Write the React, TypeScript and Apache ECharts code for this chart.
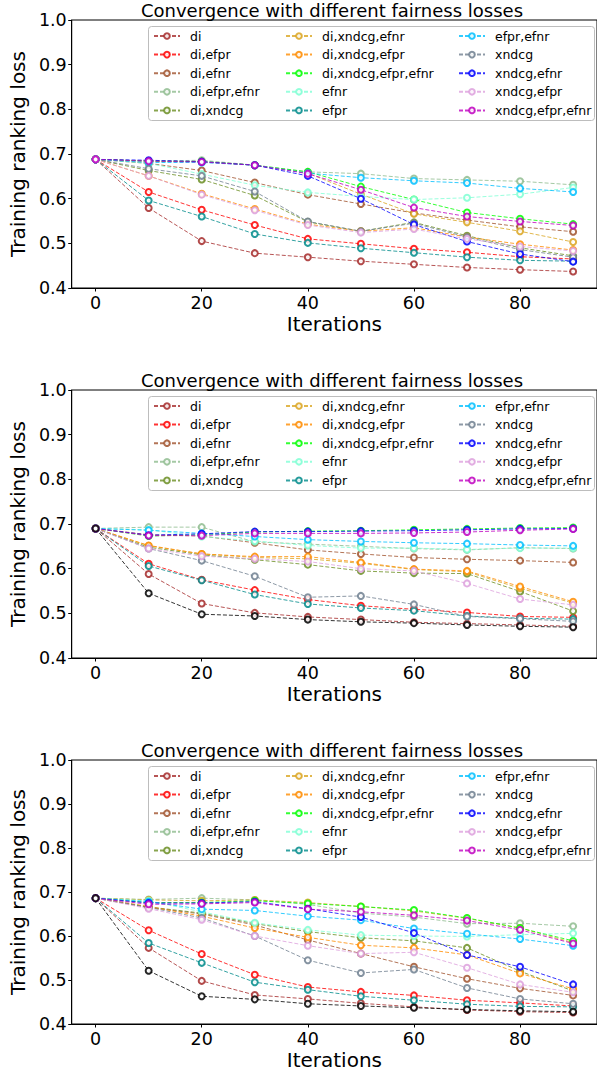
import React, { useEffect, useRef } from "react";
import * as echarts from "echarts";

const ITERATIONS = [0, 10, 20, 30, 40, 50, 60, 70, 80, 90];
const X_TICKS = [0, 20, 40, 60, 80];
const TITLE = "Convergence with different fairness losses";
const X_NAME = "Iterations";
const Y_NAME = "Training ranking loss";

const SERIES_NAMES = [
  "di",
  "di,efpr",
  "di,efnr",
  "di,efpr,efnr",
  "di,xndcg",
  "di,xndcg,efnr",
  "di,xndcg,efpr",
  "di,xndcg,efpr,efnr",
  "efnr",
  "efpr",
  "efpr,efnr",
  "xndcg",
  "xndcg,efnr",
  "xndcg,efpr",
  "xndcg,efpr,efnr",
];
const SERIES_COLORS = [
  "#a52a2a",
  "#ff0000",
  "#a0522d",
  "#8fbc8f",
  "#6b8e23",
  "#daa520",
  "#ff8c00",
  "#00ff00",
  "#7fffd4",
  "#008b8b",
  "#00bfff",
  "#708090",
  "#0000ff",
  "#dda0dd",
  "#bf00bf",
];
const EXTRA_COLOR = "#000000";

// ---- Panel 1 ----
const p1_di = [0.688, 0.579, 0.505, 0.478, 0.469, 0.46, 0.453, 0.446, 0.441, 0.437];
const p1_di_efpr = [0.688, 0.615, 0.575, 0.541, 0.51, 0.499, 0.488, 0.48, 0.47, 0.465];
const p1_di_efnr = [0.688, 0.679, 0.663, 0.636, 0.609, 0.588, 0.568, 0.552, 0.537, 0.526];
const p1_di_efpr_efnr = [0.688, 0.684, 0.686, 0.675, 0.66, 0.656, 0.645, 0.642, 0.639, 0.631];
const p1_di_xndcg = [0.688, 0.663, 0.643, 0.607, 0.548, 0.527, 0.547, 0.517, 0.49, 0.472];
const p1_di_xndcg_efnr = [0.688, 0.684, 0.683, 0.675, 0.657, 0.61, 0.566, 0.547, 0.527, 0.503];
const p1_di_xndcg_efpr = [0.688, 0.651, 0.611, 0.577, 0.543, 0.527, 0.535, 0.514, 0.498, 0.485];
const p1_di_xndcg_efpr_efnr = [0.688, 0.684, 0.683, 0.675, 0.66, 0.627, 0.598, 0.569, 0.555, 0.543];
const p1_efnr = [0.688, 0.679, 0.655, 0.63, 0.614, 0.605, 0.598, 0.602, 0.61, 0.625];
const p1_efpr = [0.688, 0.596, 0.56, 0.521, 0.501, 0.489, 0.479, 0.469, 0.462, 0.46];
const p1_efpr_efnr = [0.688, 0.681, 0.681, 0.675, 0.657, 0.647, 0.64, 0.635, 0.623, 0.615];
const p1_xndcg = [0.688, 0.667, 0.651, 0.616, 0.549, 0.527, 0.545, 0.514, 0.486, 0.469];
const p1_xndcg_efnr = [0.688, 0.686, 0.683, 0.675, 0.651, 0.6, 0.542, 0.504, 0.476, 0.459];
const p1_xndcg_efpr = [0.688, 0.651, 0.609, 0.574, 0.541, 0.524, 0.532, 0.51, 0.493, 0.483];
const p1_xndcg_efpr_efnr = [0.688, 0.684, 0.682, 0.675, 0.656, 0.62, 0.58, 0.56, 0.549, 0.54];

// ---- Panel 2 ----
const p2_di = [0.69, 0.588, 0.522, 0.501, 0.492, 0.486, 0.48, 0.477, 0.474, 0.471];
const p2_di_efpr = [0.69, 0.611, 0.575, 0.552, 0.531, 0.517, 0.509, 0.502, 0.493, 0.491];
const p2_di_efnr = [0.69, 0.676, 0.673, 0.658, 0.642, 0.633, 0.625, 0.621, 0.618, 0.614];
const p2_di_efpr_efnr = [0.69, 0.693, 0.693, 0.66, 0.655, 0.65, 0.645, 0.642, 0.647, 0.645];
const p2_di_xndcg = [0.69, 0.648, 0.631, 0.62, 0.609, 0.595, 0.59, 0.589, 0.549, 0.505];
const p2_di_xndcg_efnr = [0.69, 0.651, 0.633, 0.625, 0.622, 0.612, 0.598, 0.593, 0.556, 0.523];
const p2_di_xndcg_efpr = [0.69, 0.652, 0.633, 0.627, 0.627, 0.614, 0.599, 0.595, 0.56, 0.526];
const p2_di_xndcg_efpr_efnr = [0.69, 0.673, 0.676, 0.682, 0.684, 0.685, 0.687, 0.689, 0.691, 0.692];
const p2_efnr = [0.69, 0.687, 0.672, 0.662, 0.652, 0.646, 0.646, 0.643, 0.646, 0.646];
const p2_efpr = [0.69, 0.606, 0.574, 0.542, 0.521, 0.512, 0.506, 0.494, 0.489, 0.487];
const p2_efpr_efnr = [0.69, 0.686, 0.679, 0.672, 0.665, 0.661, 0.658, 0.656, 0.653, 0.651];
const p2_xndcg = [0.69, 0.645, 0.618, 0.583, 0.536, 0.539, 0.52, 0.493, 0.488, 0.482];
const p2_xndcg_efnr = [0.69, 0.675, 0.678, 0.683, 0.683, 0.684, 0.685, 0.687, 0.689, 0.69];
const p2_xndcg_efpr = [0.69, 0.645, 0.628, 0.622, 0.616, 0.6, 0.595, 0.567, 0.532, 0.519];
const p2_xndcg_efpr_efnr = [0.69, 0.674, 0.674, 0.679, 0.679, 0.679, 0.68, 0.682, 0.686, 0.689];
const p2_extra = [0.69, 0.545, 0.498, 0.494, 0.486, 0.481, 0.478, 0.474, 0.471, 0.469];

// ---- Panel 3 ----
const p3_di = [0.686, 0.573, 0.498, 0.466, 0.457, 0.447, 0.439, 0.432, 0.428, 0.426];
const p3_di_efpr = [0.686, 0.613, 0.559, 0.512, 0.484, 0.473, 0.465, 0.454, 0.448, 0.441];
const p3_di_efnr = [0.686, 0.665, 0.65, 0.625, 0.591, 0.56, 0.53, 0.503, 0.481, 0.465];
const p3_di_efpr_efnr = [0.686, 0.683, 0.686, 0.682, 0.672, 0.652, 0.643, 0.628, 0.629, 0.622];
const p3_di_xndcg = [0.686, 0.666, 0.652, 0.628, 0.61, 0.596, 0.589, 0.573, 0.52, 0.475];
const p3_di_xndcg_efnr = [0.686, 0.682, 0.68, 0.682, 0.676, 0.667, 0.657, 0.64, 0.618, 0.585];
const p3_di_xndcg_efpr = [0.686, 0.667, 0.645, 0.618, 0.597, 0.579, 0.573, 0.557, 0.515, 0.48];
const p3_di_xndcg_efpr_efnr = [0.686, 0.676, 0.676, 0.68, 0.674, 0.667, 0.659, 0.641, 0.618, 0.589];
const p3_efnr = [0.686, 0.68, 0.655, 0.63, 0.614, 0.602, 0.6, 0.599, 0.603, 0.606];
const p3_efpr = [0.686, 0.584, 0.539, 0.495, 0.478, 0.463, 0.454, 0.445, 0.44, 0.439];
const p3_efpr_efnr = [0.686, 0.678, 0.661, 0.658, 0.645, 0.636, 0.617, 0.605, 0.593, 0.578];
const p3_xndcg = [0.686, 0.665, 0.641, 0.6, 0.545, 0.516, 0.524, 0.482, 0.457, 0.446];
const p3_xndcg_efnr = [0.686, 0.675, 0.675, 0.678, 0.662, 0.643, 0.607, 0.557, 0.53, 0.49];
const p3_xndcg_efpr = [0.686, 0.662, 0.637, 0.6, 0.578, 0.56, 0.563, 0.528, 0.49, 0.472];
const p3_xndcg_efpr_efnr = [0.686, 0.672, 0.673, 0.676, 0.661, 0.655, 0.647, 0.635, 0.614, 0.583];
const p3_extra = [0.686, 0.521, 0.463, 0.456, 0.446, 0.441, 0.437, 0.433, 0.43, 0.428];

const PANELS: { lines: number[][]; extra: number[] | null }[] = [
  {
    lines: [
      p1_di, p1_di_efpr, p1_di_efnr, p1_di_efpr_efnr, p1_di_xndcg, p1_di_xndcg_efnr,
      p1_di_xndcg_efpr, p1_di_xndcg_efpr_efnr, p1_efnr, p1_efpr, p1_efpr_efnr,
      p1_xndcg, p1_xndcg_efnr, p1_xndcg_efpr, p1_xndcg_efpr_efnr,
    ],
    extra: null,
  },
  {
    lines: [
      p2_di, p2_di_efpr, p2_di_efnr, p2_di_efpr_efnr, p2_di_xndcg, p2_di_xndcg_efnr,
      p2_di_xndcg_efpr, p2_di_xndcg_efpr_efnr, p2_efnr, p2_efpr, p2_efpr_efnr,
      p2_xndcg, p2_xndcg_efnr, p2_xndcg_efpr, p2_xndcg_efpr_efnr,
    ],
    extra: p2_extra,
  },
  {
    lines: [
      p3_di, p3_di_efpr, p3_di_efnr, p3_di_efpr_efnr, p3_di_xndcg, p3_di_xndcg_efnr,
      p3_di_xndcg_efpr, p3_di_xndcg_efpr_efnr, p3_efnr, p3_efpr, p3_efpr_efnr,
      p3_xndcg, p3_xndcg_efnr, p3_xndcg_efpr, p3_xndcg_efpr_efnr,
    ],
    extra: p3_extra,
  },
];

const FONT = "DejaVu Sans";
const W = 597;
const H = 1071;

function buildOption() {
  const grids: any[] = [];
  const xAxes: any[] = [];
  const yAxes: any[] = [];
  const titles: any[] = [];
  const legends: any[] = [];
  const graphics: any[] = [];
  const series: any[] = [];
  const PANEL_STEP = 370;
  const colLefts = [153, 285, 458];

  const lineSeries = (name: string, p: number, vals: number[], color: string) => ({
    type: "line",
    name,
    xAxisIndex: p,
    yAxisIndex: p,
    data: ITERATIONS.map((x, k) => [x, vals[k]]),
    symbol: "emptyCircle",
    symbolSize: 6,
    showSymbol: true,
    color,
    lineStyle: { color, width: 1, type: [4, 2], opacity: 0.8 },
    itemStyle: { color, borderColor: color, borderWidth: 0.8, opacity: 0.85 },
    emphasis: { disabled: true },
  });

  PANELS.forEach((panel, p) => {
    const dy = p * PANEL_STEP;
    grids.push({
      left: 63,
      top: 20 + dy,
      width: 538,
      height: 268,
      show: true,
      borderColor: "#000",
      borderWidth: 1,
      backgroundColor: "transparent",
    });
    xAxes.push({
      type: "value",
      gridIndex: p,
      min: -4.5,
      max: 94.5,
      axisLine: { show: true, onZero: false, lineStyle: { color: "#000", width: 1 } },
      axisTick: { show: true, length: 3.5, customValues: X_TICKS, lineStyle: { color: "#000" } },
      axisLabel: {
        customValues: X_TICKS,
        fontSize: 17.5,
        fontFamily: FONT,
        color: "#000",
        margin: 6,
      },
      splitLine: { show: false },
      name: X_NAME,
      nameLocation: "middle",
      nameGap: 26,
      nameTextStyle: { fontSize: 20, fontFamily: FONT, color: "#000" },
    });
    yAxes.push({
      type: "value",
      gridIndex: p,
      min: 0.4,
      max: 1.0,
      interval: 0.1,
      axisLine: { show: true, onZero: false, lineStyle: { color: "#000", width: 1 } },
      axisTick: { show: true, length: 3.5, lineStyle: { color: "#000" } },
      axisLabel: {
        fontSize: 17.5,
        fontFamily: FONT,
        color: "#000",
        margin: 5,
        formatter: (v: number) => v.toFixed(1),
      },
      splitLine: { show: false },
      name: Y_NAME,
      nameLocation: "middle",
      nameGap: 36,
      nameRotate: 90,
      nameTextStyle: { fontSize: 20, fontFamily: FONT, color: "#000" },
    });
    titles.push({
      text: TITLE,
      left: 332,
      top: dy,
      textAlign: "center",
      padding: 0,
      textStyle: {
        fontSize: 18,
        fontWeight: "normal",
        fontFamily: FONT,
        color: "#000",
        lineHeight: 20,
      },
    });
    graphics.push({
      type: "rect",
      silent: true,
      z: 10,
      shape: { x: 148.5, y: 26.5 + dy, width: 446, height: 94, r: 3 },
      style: { fill: "none", stroke: "#bdbdbd", lineWidth: 1 },
    });
    for (let c = 0; c < 3; c++) {
      legends.push({
        orient: "vertical",
        left: colLefts[c],
        top: 29 + dy,
        padding: 0,
        itemWidth: 26,
        itemHeight: 7,
        itemGap: 4.6,
        selectedMode: false,
        data: SERIES_NAMES.slice(c * 5, c * 5 + 5),
        textStyle: {
          fontSize: 12.5,
          fontFamily: FONT,
          color: "#000",
          lineHeight: 14,
          padding: [0, 0, 0, 5],
        },
        z: 5,
      });
    }
    panel.lines.forEach((vals, i) => {
      series.push(lineSeries(SERIES_NAMES[i], p, vals, SERIES_COLORS[i]));
    });
    if (panel.extra) {
      series.push(lineSeries("_extra", p, panel.extra, EXTRA_COLOR));
    }
  });

  return {
    animation: false,
    backgroundColor: "#fff",
    textStyle: { fontFamily: FONT },
    title: titles,
    grid: grids,
    xAxis: xAxes,
    yAxis: yAxes,
    legend: legends,
    graphic: { elements: graphics },
    series,
  };
}

export default function App() {
  const ref = useRef<HTMLDivElement>(null);
  useEffect(() => {
    if (!ref.current) return;
    const chart = echarts.init(ref.current, undefined, { renderer: "svg" });
    chart.setOption(buildOption() as any);
    return () => chart.dispose();
  }, []);
  return (
    <div
      ref={ref}
      style={{ position: "absolute", left: 0, top: 0, width: W, height: H, background: "#fff" }}
    />
  );
}
